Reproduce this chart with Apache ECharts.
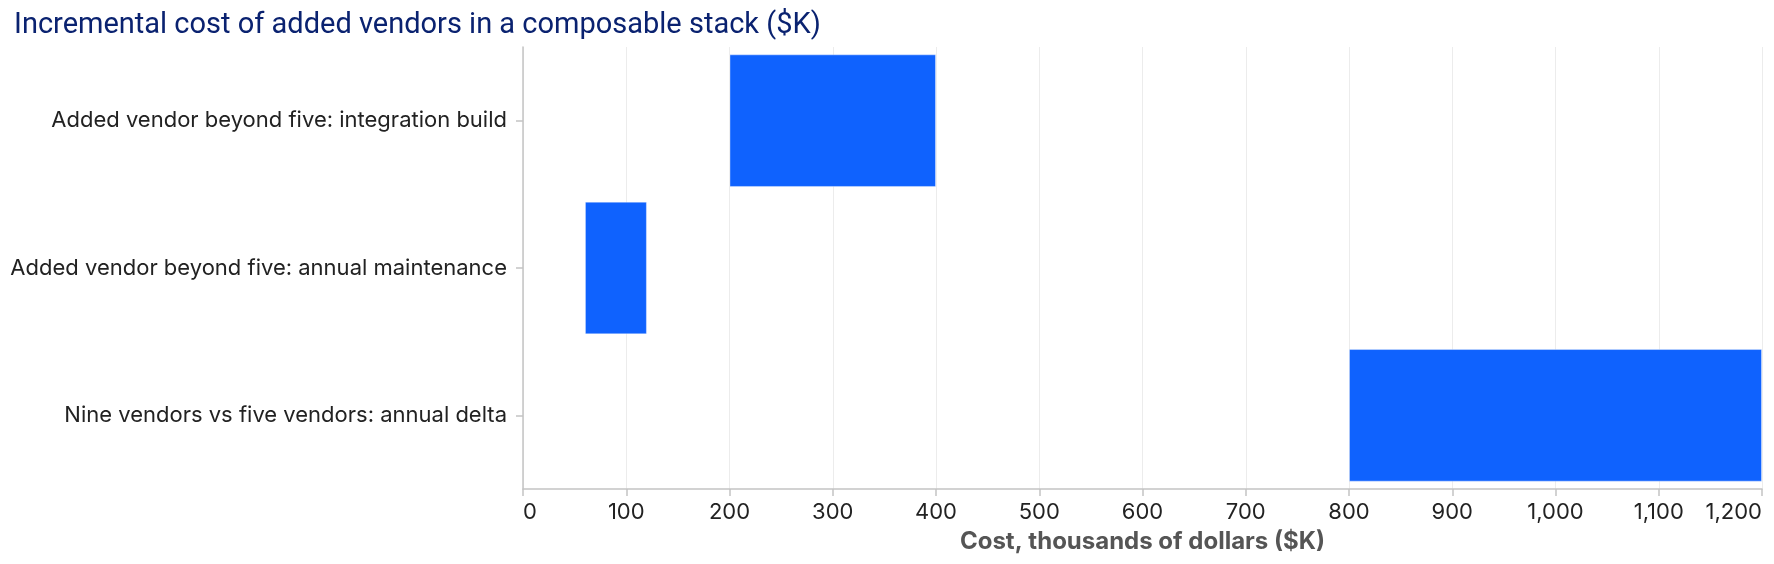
<!DOCTYPE html>
<html>
<head>
<meta charset="utf-8">
<script src="https://cdn.jsdelivr.net/npm/echarts@6/dist/echarts.min.js"></script>
<style>
  html, body { margin: 0; padding: 0; background: #fff; }
  #chart { width: 1774px; height: 564px; }
</style>
</head>
<body>
<div id="chart"></div>
<script>
// floating bars: each item runs from start to end ($K)
const categories = [
  'Added vendor beyond five: integration build',
  'Added vendor beyond five: annual maintenance',
  'Nine vendors vs five vendors: annual delta'
]
const rangeStart = [200, 60, 800]
const rangeEnd = [400, 120, 1200]
const tickValues = [0, 100, 200, 300, 400, 500, 600, 700, 800, 900, 1000, 1100, 1200]

const chart = echarts.init(document.getElementById('chart'))

chart.setOption({
  animation: false,
  title: {
    text: 'Incremental cost of added vendors in a composable stack ($K)',
    left: 9,
    top: 6,
    textStyle: { fontFamily: 'Roboto', fontSize: 29, fontWeight: 'normal', color: '#0a2270' }
  },
  grid: { left: 523, right: 12, top: 47, bottom: 75 },
  xAxis: {
    type: 'value',
    min: tickValues[0],
    max: tickValues[tickValues.length - 1],
    interval: 100,
    name: 'Cost, thousands of dollars ($K)',
    nameLocation: 'middle',
    nameGap: 41,
    nameTextStyle: { fontFamily: 'Inter', fontSize: 24, fontWeight: 'bold', color: '#555' },
    axisLine: { show: true, lineStyle: { color: '#c4c4c4', width: 1.5 } },
    axisTick: { show: true, length: 7, lineStyle: { color: '#c4c4c4', width: 1.5 } },
    axisLabel: {
      margin: 12,
      fontFamily: 'Inter',
      fontSize: 22,
      color: '#222',
      alignMinLabel: 'left',
      alignMaxLabel: 'right',
      formatter: v => v.toLocaleString('en-US')
    },
    splitLine: { show: true, lineStyle: { color: '#ececec', width: 1 } }
  },
  yAxis: {
    type: 'category',
    data: categories,
    inverse: true,
    axisLine: { show: true, lineStyle: { color: '#c4c4c4', width: 1.5 } },
    axisTick: { show: true, length: 7, alignWithLabel: true, lineStyle: { color: '#c4c4c4', width: 1.5 } },
    axisLabel: { margin: 16, fontFamily: 'Inter', fontSize: 22, color: '#222' },
    splitLine: { show: false }
  },
  series: [
    {
      type: 'bar',
      stack: 'range',
      silent: true,
      itemStyle: { color: 'transparent' },
      data: rangeStart
    },
    {
      type: 'bar',
      stack: 'range',
      barCategoryGap: '10%',
      itemStyle: { color: '#0f62fe', borderColor: 'rgba(255,255,255,0.35)', borderWidth: 1 },
      data: rangeEnd.map((v, i) => v - rangeStart[i])
    }
  ]
})
</script>
</body>
</html>
